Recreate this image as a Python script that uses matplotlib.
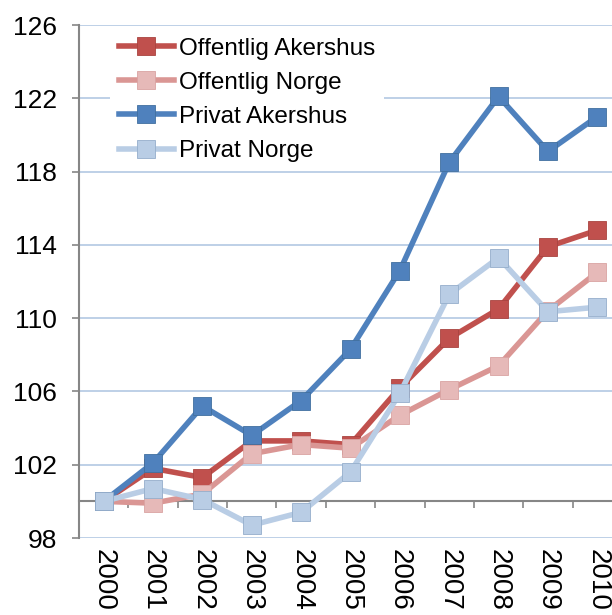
import matplotlib.pyplot as plt
import numpy as np

plt.rcParams['font.family'] = ['Liberation Sans', 'DejaVu Sans']

years = ["2000", "2001", "2002", "2003", "2004", "2005", "2006", "2007", "2008", "2009", "2010"]
off_akershus = [100, 101.8, 101.3, 103.3, 103.3, 103.1, 106.2, 108.9, 110.5, 113.9, 114.8]
off_norge = [100, 99.9, 100.4, 102.6, 103.1, 102.9, 104.7, 106.1, 107.4, 110.4, 112.5]
priv_akershus = [100, 102.1, 105.2, 103.6, 105.5, 108.3, 112.6, 118.5, 122.1, 119.1, 121.0]
priv_norge = [100, 100.7, 100.1, 98.7, 99.4, 101.6, 105.9, 111.3, 113.3, 110.35, 110.6]

fig = plt.figure(figsize=(6.12, 6.15), dpi=100)
ax = fig.add_axes([79/612, 77/615, 543/612, 513/615])

x = np.arange(len(years))
# name, values, line colour, marker colour, marker edge
series = [
    ("Offentlig Akershus", off_akershus, "#C0504D", "#C0504D", "#A94440"),
    ("Offentlig Norge", off_norge, "#DA9694", "#E6B9B8", "#D9A3A2"),
    ("Privat Akershus", priv_akershus, "#4F81BD", "#4F81BD", "#41709F"),
    ("Privat Norge", priv_norge, "#B9CDE5", "#B9CDE5", "#95AECB"),
]
for name, vals, lc, mc, ec in series:
    ax.plot(x, vals, color=lc, linewidth=4, marker="s", markersize=13,
            markerfacecolor=mc, markeredgecolor=ec, markeredgewidth=0.6,
            label=name, zorder=3)

ax.set_xlim(-0.5, 10.5)
ax.set_ylim(98, 126)
ax.set_yticks(np.arange(98, 127, 4))
ax.set_xticks(x)
ax.set_xticklabels(years, rotation=270, fontsize=20)
ax.tick_params(axis="x", length=0, pad=8)
ax.tick_params(axis="y", labelsize=19, length=5, width=1.2, color="#868686", pad=11)

ax.grid(axis="y", color="#B9CDE5", linewidth=1.3)
ax.set_axisbelow(True)
for s in ["top", "right", "bottom"]:
    ax.spines[s].set_visible(False)
ax.spines["left"].set_color("#868686")
ax.spines["left"].set_linewidth(1.5)

# category axis crosses at 100
sec = ax.secondary_xaxis(2/28)
sec.set_xticks(np.arange(-0.5, 11, 1))
sec.set_xticklabels([])
sec.tick_params(axis="x", direction="out", length=5, width=1.2, color="#868686")
sec.spines["bottom"].set_color("#868686")
sec.spines["bottom"].set_linewidth(1.5)

leg = ax.legend(loc="upper left", bbox_to_anchor=(110/612, 1 - 29/615),
                bbox_transform=fig.transFigure, fontsize=17.5, frameon=True,
                facecolor="white", edgecolor="none", framealpha=1,
                handlelength=2.3, handletextpad=0.2, labelspacing=0.5,
                borderpad=0.35, borderaxespad=0)
leg.set_zorder(2)

fig.savefig("out.png", dpi=100)
